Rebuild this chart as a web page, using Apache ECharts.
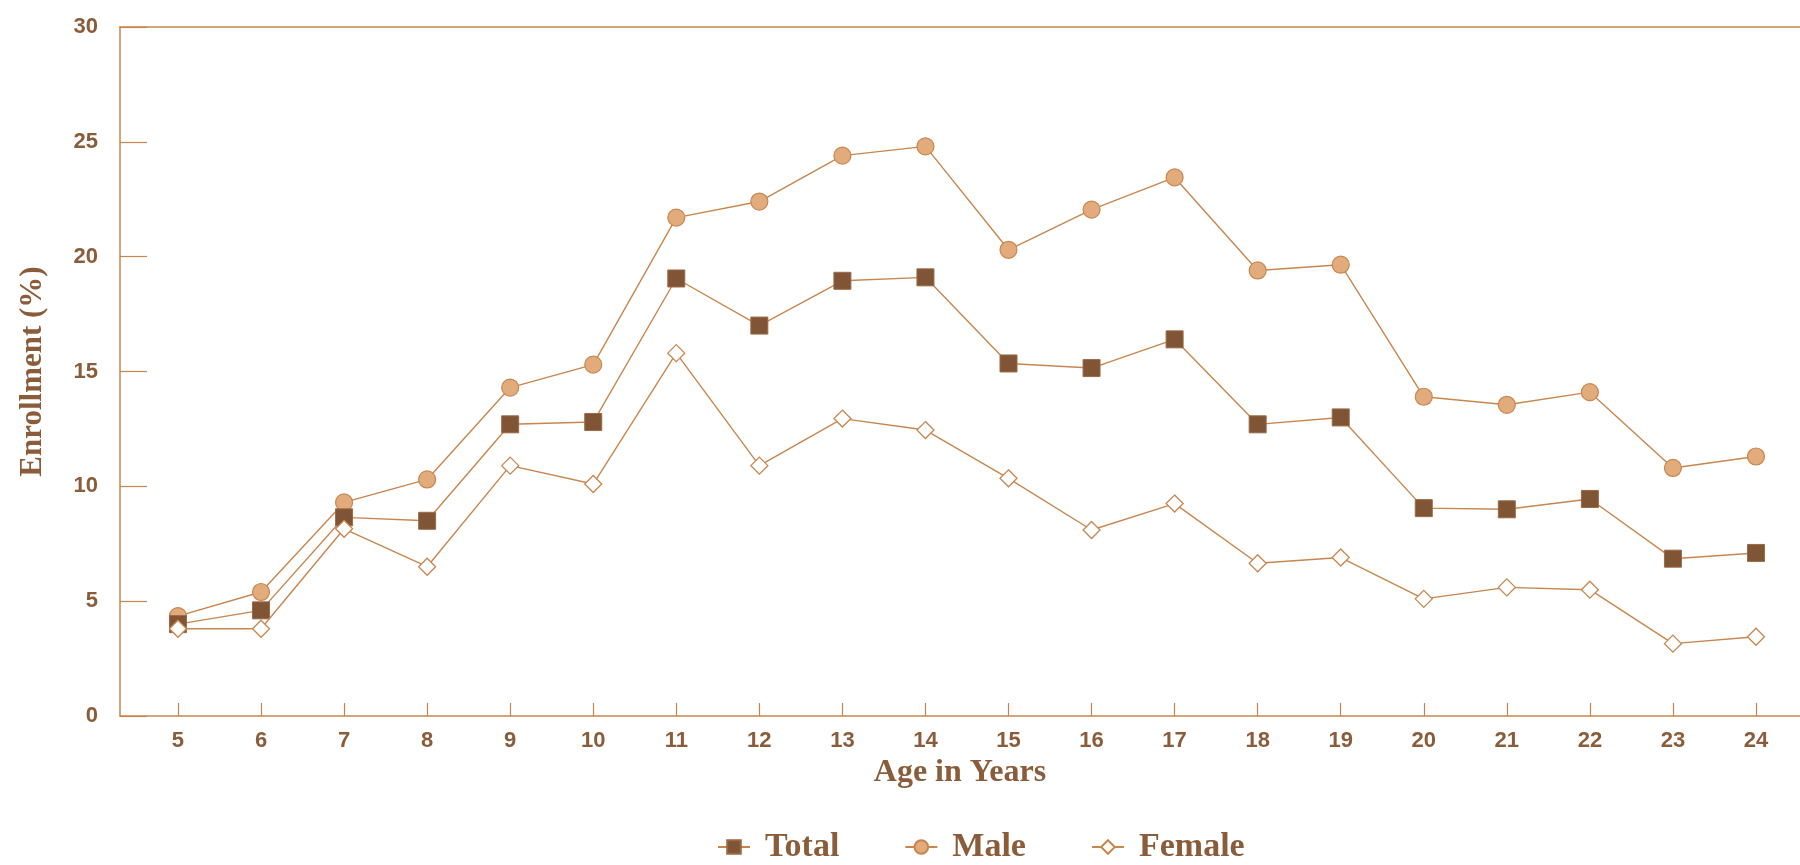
<!DOCTYPE html>
<html>
<head>
<meta charset="utf-8">
<script src="https://cdn.jsdelivr.net/npm/echarts@6/dist/echarts.min.js"></script>
<style>
html,body{margin:0;padding:0;background:#fff;}
#chart{width:1800px;height:865px;}
</style>
</head>
<body>
<div id="chart"></div>
<script>
var ages = [5,6,7,8,9,10,11,12,13,14,15,16,17,18,19,20,21,22,23,24];
var totalVals  = [4.0,4.6,8.65,8.5,12.7,12.8,19.05,17.0,18.95,19.1,15.35,15.15,16.4,12.7,13.0,9.05,9.0,9.45,6.85,7.1];
var maleVals   = [4.35,5.4,9.3,10.3,14.3,15.3,21.7,22.4,24.4,24.8,20.3,22.05,23.45,19.4,19.65,13.9,13.55,14.1,10.8,11.3];
var femaleVals = [3.8,3.8,8.15,6.5,10.9,10.1,15.8,10.9,12.95,12.45,10.35,8.1,9.25,6.65,6.9,5.1,5.6,5.5,3.15,3.45];
var yTicks = [0,5,10,15,20,25,30];
var seriesNames = ['Total','Male','Female'];

function pairs(vals){ return ages.map(function(a,i){ return [a, vals[i]]; }); }

var lineColor = '#c8864e';
var textColor = '#8a5c3a';
var serif = '"Liberation Serif","Times New Roman",serif';
var sans = '"Liberation Sans",Arial,sans-serif';

var chart = echarts.init(document.getElementById('chart'), null, {renderer:'canvas'});
chart.setOption({
  animation: false,
  backgroundColor: '#ffffff',
  grid: {left:120, top:27, right:0, bottom:149, show:false},
  legend: {
    data: seriesNames,
    left: 712, top: 825,
    itemWidth: 32, itemHeight: 17, itemGap: 65,
    textStyle: {fontFamily: serif, fontWeight:'bold', fontSize:34, color:textColor, padding:[0,0,0,10]}
  },
  xAxis: [{
    type:'value', min:4.302, max:24.53,
    name:'Age in Years', nameLocation:'middle', nameGap:40,
    nameTextStyle:{fontFamily: serif, fontWeight:'bold', fontSize:32, color:textColor},
    axisLine:{show:true, lineStyle:{color:lineColor, width:1.5}},
    axisTick:{show:true, inside:true, length:13, customValues: ages, lineStyle:{color:lineColor, width:1.2}},
    axisLabel:{customValues: ages, margin:14, fontFamily:sans, fontWeight:'bold', fontSize:22, color:textColor},
    splitLine:{show:false}
  },{
    type:'value', position:'top', min:4.302, max:24.53,
    axisLine:{show:true, onZero:false, lineStyle:{color:lineColor, width:1.5}},
    axisTick:{show:false}, axisLabel:{show:false}, splitLine:{show:false}
  }],
  yAxis: {
    type:'value', min:0, max:30, interval:5,
    name:'Enrollment (%)', nameLocation:'middle', nameGap:72,
    nameTextStyle:{fontFamily: serif, fontWeight:'bold', fontSize:31, color:textColor},
    axisLine:{show:true, lineStyle:{color:lineColor, width:1.5}},
    axisTick:{show:true, inside:true, length:27, customValues: yTicks, lineStyle:{color:lineColor, width:1.2}},
    axisLabel:{customValues: yTicks, margin:22, fontFamily:sans, fontWeight:'bold', fontSize:22, color:textColor},
    splitLine:{show:false}
  },
  series: [
    {name:'Total', type:'line', data:pairs(totalVals), symbol:'rect', symbolSize:17,
     lineStyle:{color:lineColor, width:1.4}, itemStyle:{color:'#7f5535', borderColor:'#9b6a45', borderWidth:1}, z:3},
    {name:'Male', type:'line', data:pairs(maleVals), symbol:'circle', symbolSize:17,
     lineStyle:{color:lineColor, width:1.4}, itemStyle:{color:'#e2ab7c', borderColor:'#c8864e', borderWidth:1.2}, z:2},
    {name:'Female', type:'line', data:pairs(femaleVals), symbol:'diamond', symbolSize:17,
     lineStyle:{color:lineColor, width:1.4}, itemStyle:{color:'#ffffff', borderColor:'#c8864e', borderWidth:1.3}, z:4}
  ]
});
</script>
</body>
</html>
